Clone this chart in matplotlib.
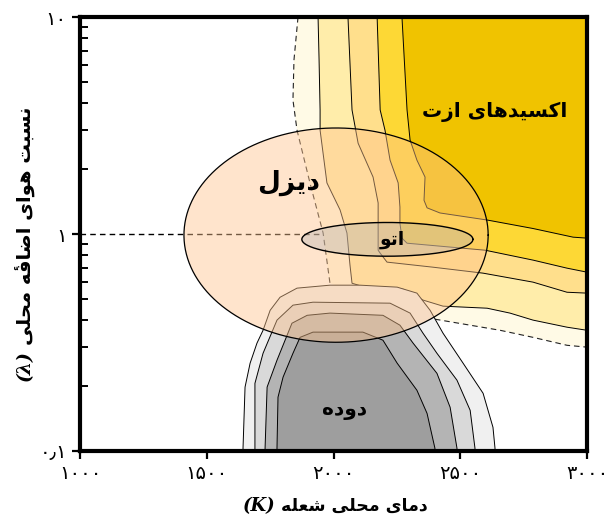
import numpy as np
import matplotlib
matplotlib.use("Agg")
import matplotlib.pyplot as plt
from matplotlib.ticker import LogLocator, NullFormatter

# temperature (K) / excess-air ratio lambda of each contour edge
nox_edge_0_T = [1860, 1844, 1840, 1856, 1907, 1959, 1986, 2400, 2657, 2787, 2921, 3000]
nox_edge_0_lam = [10, 6.34, 4.14, 3.01, 1.72, 1.01, 0.593, 0.405, 0.360, 0.334, 0.307, 0.301]
nox_edge_1_T = [1939, 1943, 1947, 1947, 1974, 2026, 2053, 2065, 2073, 2124, 2274, 2353, 2432, 2606, 2696, 2787, 2921, 3000]
nox_edge_1_lam = [10, 6.34, 3.73, 3.01, 1.72, 1.29, 1.01, 0.718, 0.593, 0.569, 0.557, 0.496, 0.465, 0.455, 0.432, 0.401, 0.372, 0.360]
nox_edge_2_T = [2057, 2073, 2097, 2156, 2176, 2176, 2176, 2184, 2211, 2393, 2590, 2787, 2921, 3000]
nox_edge_2_lam = [10, 3.73, 2.62, 1.83, 1.39, 1.12, 0.842, 0.816, 0.742, 0.703, 0.660, 0.600, 0.539, 0.534]
nox_edge_3_T = [2172, 2184, 2203, 2223, 2255, 2262, 2262, 2270, 2290, 2598, 2787, 2921, 3000]
nox_edge_3_lam = [10, 3.73, 3.01, 2.19, 1.72, 1.33, 1.12, 0.957, 0.907, 0.842, 0.758, 0.696, 0.667]
nox_edge_4_T = [2270, 2290, 2302, 2329, 2361, 2357, 2369, 2420, 2606, 2787, 2945, 3000]
nox_edge_4_lam = [10, 3.73, 2.71, 2.19, 1.83, 1.43, 1.32, 1.25, 1.16, 1.06, 0.967, 0.957]

soot_edge_1_T = [1643, 1643, 1651, 1671, 1698, 1722, 1750, 1789, 1856, 1986, 2105, 2251, 2329, 2381, 2432, 2511, 2590, 2629, 2637, 2637]
soot_edge_1_lam = [0.09, 0.103, 0.197, 0.254, 0.314, 0.360, 0.445, 0.511, 0.563, 0.581, 0.581, 0.569, 0.534, 0.445, 0.349, 0.254, 0.1845, 0.1286, 0.103, 0.09]
soot_edge_2_T = [1690, 1690, 1690, 1722, 1777, 1840, 1919, 2223, 2302, 2353, 2408, 2487, 2539, 2558, 2558]
soot_edge_2_lam = [0.09, 0.103, 0.205, 0.282, 0.401, 0.470, 0.485, 0.480, 0.432, 0.349, 0.282, 0.212, 0.154, 0.103, 0.09]
soot_edge_3_T = [1730, 1730, 1738, 1777, 1836, 1896, 1986, 2195, 2262, 2314, 2408, 2460, 2487, 2487]
soot_edge_3_lam = [0.09, 0.103, 0.197, 0.262, 0.388, 0.422, 0.432, 0.422, 0.380, 0.314, 0.228, 0.159, 0.103, 0.09]
soot_edge_4_T = [1777, 1777, 1781, 1801, 1840, 1868, 1919, 2116, 2195, 2251, 2329, 2369, 2400, 2400]
soot_edge_4_lam = [0.09, 0.103, 0.177, 0.219, 0.282, 0.334, 0.353, 0.353, 0.324, 0.254, 0.1905, 0.149, 0.103, 0.09]

# operating windows: (T min, T max), (lambda min, lambda max)
diesel_T = (1410, 2610)
diesel_lam = (0.317, 3.08)
otto_T = (1875, 2550)
otto_lam = (0.79, 1.13)
stoich_T = [1000, 1960]
stoich_lam = [1, 1]

x_ticks = [1000, 1500, 2000, 2500, 3000]
y_ticks = [0.1, 1, 10]

nox_colors = ["#FFFAE6", "#FFEDAA", "#FFDF8C", "#FDD835", "#F0C300"]
soot_colors = ["#F0F0F0", "#D9D9D9", "#B4B4B4", "#9E9E9E"]

# Persian letters -> (isolated, final, initial, medial) presentation forms
FORMS = {
    "\u0627": ("\uFE8D", "\uFE8E", None, None),
    "\u0628": ("\uFE8F", "\uFE90", "\uFE91", "\uFE92"),
    "\u062A": ("\uFE95", "\uFE96", "\uFE97", "\uFE98"),
    "\u062D": ("\uFEA1", "\uFEA2", "\uFEA3", "\uFEA4"),
    "\u062F": ("\uFEA9", "\uFEAA", None, None),
    "\u0632": ("\uFEAF", "\uFEB0", None, None),
    "\u0633": ("\uFEB1", "\uFEB2", "\uFEB3", "\uFEB4"),
    "\u0634": ("\uFEB5", "\uFEB6", "\uFEB7", "\uFEB8"),
    "\u0636": ("\uFEBD", "\uFEBE", "\uFEBF", "\uFEC0"),
    "\u0639": ("\uFEC9", "\uFECA", "\uFECB", "\uFECC"),
    "\u0641": ("\uFED1", "\uFED2", "\uFED3", "\uFED4"),
    "\u06A9": ("\uFB8E", "\uFB8F", "\uFB90", "\uFB91"),
    "\u0644": ("\uFEDD", "\uFEDE", "\uFEDF", "\uFEE0"),
    "\u0645": ("\uFEE1", "\uFEE2", "\uFEE3", "\uFEE4"),
    "\u0646": ("\uFEE5", "\uFEE6", "\uFEE7", "\uFEE8"),
    "\u0647": ("\uFEE9", "\uFEEA", "\uFEEB", "\uFEEC"),
    # heh + hamza above, drawn as heh followed by the combining mark
    "\u06C0": ("\uFEE9\u0654", "\uFEEA\u0654", None, None),
    "\u0648": ("\uFEED", "\uFEEE", None, None),
    "\u06CC": ("\uFBFC", "\uFBFD", "\uFBFE", "\uFBFF"),
}


def fa_shape(text):
    # join the letters and lay them out right to left
    text = text.replace("\u064A", "\u06CC").replace("\u0643", "\u06A9")
    text = text.replace("\u0647\u0654", "\u06C0")
    out = []
    for i, ch in enumerate(text):
        forms = FORMS.get(ch)
        if forms is None:
            out.append(ch)
            continue
        prev = text[i - 1] if i > 0 else ""
        nxt = text[i + 1] if i + 1 < len(text) else ""
        to_prev = prev in FORMS and FORMS[prev][2] is not None
        to_next = forms[2] is not None and nxt in FORMS
        if to_prev and to_next:
            out.append(forms[3])
        elif to_prev:
            out.append(forms[1])
        elif to_next:
            out.append(forms[2])
        else:
            out.append(forms[0])
    return "".join(reversed(out))


def fa_num(v):
    s = ("%g" % v).replace(".", "\u066B")
    return s.translate(str.maketrans("0123456789", "۰۱۲۳۴۵۶۷۸۹"))


def ellipse(T_range, lam_range):
    t = np.linspace(0, 2 * np.pi, 300)
    cT, aT = np.mean(T_range), (T_range[1] - T_range[0]) / 2
    lo, hi = np.log10(lam_range)
    return cT + aT * np.cos(t), 10 ** ((lo + hi) / 2 + (hi - lo) / 2 * np.sin(t))


plt.rcParams["font.family"] = ["DejaVu Sans"]

fig = plt.figure(figsize=(6.08, 5.2), dpi=100)
ax = fig.add_axes([0.1316, 0.1327, 0.8339, 0.8346])
ax.set_yscale("log")
ax.set_xlim(1000, 3000)
ax.set_ylim(0.1, 10)

# NOx bands, each filled up to the top right corner
nox_T = [nox_edge_0_T, nox_edge_1_T, nox_edge_2_T, nox_edge_3_T, nox_edge_4_T]
nox_lam = [nox_edge_0_lam, nox_edge_1_lam, nox_edge_2_lam, nox_edge_3_lam, nox_edge_4_lam]
for k in range(5):
    xs = nox_T[k] + [3000]
    ys = nox_lam[k] + [10]
    ax.fill(xs, ys, facecolor=nox_colors[k], edgecolor="none", zorder=1 + k)
    if k == 0:
        ax.plot(nox_T[k][:7], nox_lam[k][:7], color="#222222", lw=0.8,
                dashes=(5, 3.5), zorder=1.5)
        ax.plot(nox_T[k][7:], nox_lam[k][7:], color="#222222", lw=0.8,
                dashes=(5, 3.5), zorder=1.5)
    else:
        ax.plot(nox_T[k], nox_lam[k], color="black", lw=0.7, zorder=1.5 + k)

# soot islands
soot_T = [soot_edge_1_T, soot_edge_2_T, soot_edge_3_T, soot_edge_4_T]
soot_lam = [soot_edge_1_lam, soot_edge_2_lam, soot_edge_3_lam, soot_edge_4_lam]
for k in range(4):
    ax.fill(soot_T[k], soot_lam[k], facecolor=soot_colors[k], edgecolor="black",
            lw=0.7, zorder=7 + k)

ax.plot(stoich_T, stoich_lam, color="black", lw=1.0, dashes=(4, 3), zorder=11)

dx, dy = ellipse(diesel_T, diesel_lam)
ax.fill(dx, dy, facecolor="#FFC58F", alpha=0.45, edgecolor="none", zorder=12)
ax.plot(dx, dy, color="black", lw=0.9, zorder=12.5)
ox, oy = ellipse(otto_T, otto_lam)
ax.fill(ox, oy, facecolor="#B0B0B0", alpha=0.35, edgecolor="none", zorder=13)
ax.plot(ox, oy, color="black", lw=1.0, zorder=13.5)

bold = dict(fontweight="bold", ha="center", va="center", zorder=15)
ax.text(2637, 3.65, fa_shape("اکسیدهای ازت"), fontsize=14.5, **bold)
ax.text(1821, 1.72, fa_shape("دیزل"), fontsize=19, **bold)
ax.text(2231, 0.94, fa_shape("اتو"), fontsize=13.5, **bold)
ax.text(2045, 0.154, fa_shape("دوده"), fontsize=14.5, **bold)

# axes frame and ticks
for sp in ax.spines.values():
    sp.set_linewidth(3)
    sp.set_zorder(20)
ax.xaxis.set_zorder(20)
ax.yaxis.set_zorder(20)
ax.set_xticks(x_ticks)
ax.set_xticklabels([fa_num(v) for v in x_ticks])
ax.set_yticks(y_ticks)
ax.set_yticklabels([fa_num(v) for v in y_ticks])
ax.yaxis.set_minor_locator(LogLocator(base=10, subs=np.arange(2, 10)))
ax.yaxis.set_minor_formatter(NullFormatter())
ax.tick_params(which="major", direction="out", length=5.5, width=1.6,
               labelsize=14, pad=4)
ax.tick_params(axis="y", which="minor", direction="in", length=5.5, width=1.4)

xl = fig.text(0.462, 0.027, fa_shape("دمای محلی شعله"), fontsize=12.5,
              fontweight="bold", ha="left", va="center")
ax.annotate("(K)", xy=(0, 0.5), xycoords=xl, xytext=(-4, 0),
            textcoords="offset points", ha="right", va="center", fontsize=13,
            family="DejaVu Serif", fontweight="bold", fontstyle="italic",
            annotation_clip=False)
yl = fig.text(0.041, 0.337, fa_shape("نسبت هوای اضافه\u0654 محلی"), fontsize=14,
              fontweight="bold", rotation=90, ha="center", va="bottom")
ax.annotate("(λ)", xy=(0.5, 0), xycoords=yl, xytext=(0, -4),
            textcoords="offset points", ha="center", va="top", fontsize=13.5,
            rotation=90, family="DejaVu Serif", fontweight="bold",
            fontstyle="italic", annotation_clip=False)

fig.savefig("out.png", dpi=100)
